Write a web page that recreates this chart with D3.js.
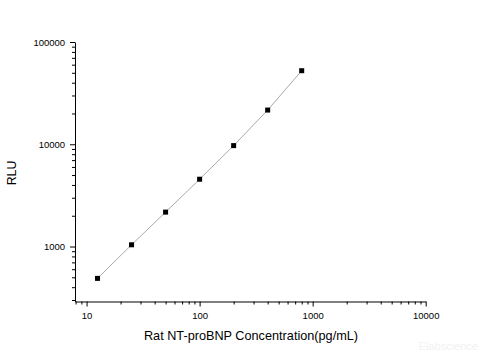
<!DOCTYPE html>
<html><head><meta charset="utf-8">
<script src="https://cdn.jsdelivr.net/npm/d3@7"></script>
<style>body{margin:0;background:#fff}svg{display:block}</style>
</head><body>
<script>
const concentrations = [12.5, 25, 50, 100, 200, 400, 800];
const rlu = [488, 1040, 2170, 4550, 9700, 21600, 52400];
const xTickValues = [10, 100, 1000, 10000];
const yTickValues = [1000, 10000, 100000];
const xTitle = "Rat NT-proBNP Concentration(pg/mL)";
const yTitle = "RLU";

const W = 480, H = 360;
const svg = d3.select("body").append("svg").attr("width", W).attr("height", H);
const font = "'Liberation Sans', Arial, sans-serif";

const x = d3.scaleLog().domain([7.9, 10000]).range([75, 425.7]);
const y = d3.scaleLog().domain([290, 100000]).range([301.5, 42]);

function minors(lo, hi) {
  const out = [];
  for (let e = -1; e < 6; e++) for (let m = 2; m <= 9; m++) {
    const v = m * Math.pow(10, e);
    if (v >= lo && v <= hi) out.push(v);
  }
  return out;
}

// X axis
const xg = svg.append("g").attr("transform", "translate(0,301.5)");
xg.append("g").call(d3.axisBottom(x).tickValues(minors(7.9, 10000)).tickSize(3).tickFormat(""))
  .call(g => g.select(".domain").remove());
xg.append("g").call(d3.axisBottom(x).tickValues(xTickValues).tickSize(5).tickSizeOuter(0).tickFormat(d3.format("d")))
  .call(g => g.selectAll("text").attr("font-size", 9.5).attr("font-family", font).attr("fill", "#000").attr("dy", "0.95em"));
xg.selectAll("line, path").attr("stroke", "#000");

// Y axis
const yg = svg.append("g").attr("transform", "translate(75,0)");
yg.append("g").call(d3.axisLeft(y).tickValues(minors(290, 100000)).tickSize(3).tickFormat(""))
  .call(g => g.select(".domain").remove());
yg.append("g").call(d3.axisLeft(y).tickValues(yTickValues).tickSize(5).tickSizeOuter(0).tickFormat(d3.format("d")))
  .call(g => g.selectAll("text").attr("font-size", 9.5).attr("font-family", font).attr("fill", "#000").attr("dx", "-0.2em"));
yg.selectAll("line, path").attr("stroke", "#000");

// Line
const pts = concentrations.map((c, i) => [c, rlu[i]]);
svg.append("path").datum(pts)
  .attr("d", d3.line().x(d => x(d[0])).y(d => y(d[1])))
  .attr("fill", "none").attr("stroke", "#aaa").attr("stroke-width", 1);

// Markers
svg.selectAll("rect.pt").data(pts).enter().append("rect")
  .attr("x", d => x(d[0]) - 2.5).attr("y", d => y(d[1]) - 2.5)
  .attr("width", 5).attr("height", 5).attr("fill", "#000");

// Titles
svg.append("text").attr("x", 251).attr("y", 340).attr("text-anchor", "middle")
  .attr("font-family", font).attr("font-size", 12.7).attr("fill", "#000").text(xTitle);
svg.append("text").attr("transform", "translate(16,173) rotate(-90)").attr("text-anchor", "middle")
  .attr("font-family", font).attr("font-size", 12.3).attr("fill", "#000").text(yTitle);

// Watermark
svg.append("text").attr("x", 478).attr("y", 350).attr("text-anchor", "end")
  .attr("font-family", font).attr("font-size", 11).attr("fill", "#f2f2f2").text("Elabscience");
</script>
</body></html>
